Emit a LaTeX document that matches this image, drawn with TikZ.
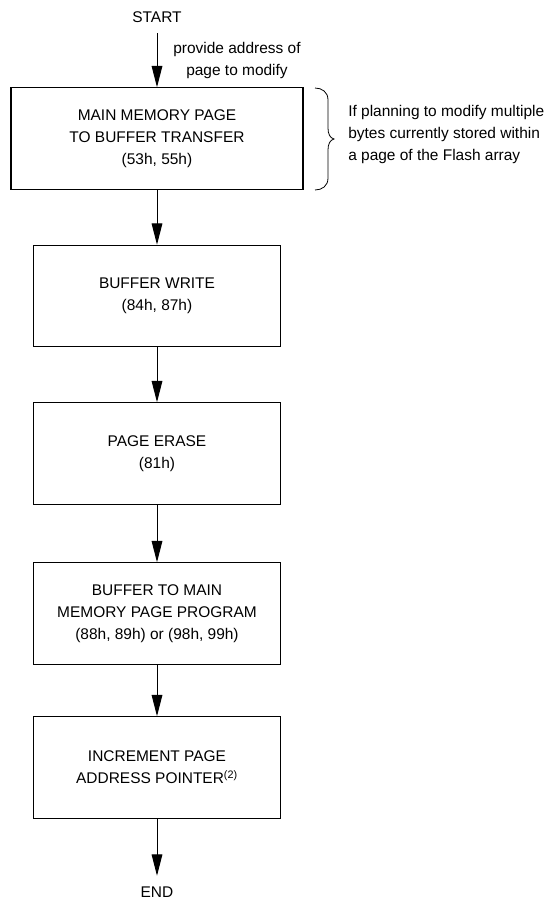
\documentclass[tikz,border=0pt]{standalone}
\usepackage{fontspec}
\setmainfont{Liberation Sans}
\usetikzlibrary{arrows.meta}

\tikzset{
  box/.style={draw, line width=0.9pt, minimum width=185pt, minimum height=76pt, align=center, inner sep=2pt},
  term/.style={inner sep=8pt},
  flow/.style={line width=0.75pt, -{Triangle[length=16pt,width=8pt]}},
}

\begin{document}
\begin{tikzpicture}[x=0.75pt,y=0.75pt,yscale=-1,xscale=1, font=\fontsize{11.6}{16.5}\selectfont]
\useasboundingbox (0,0) rectangle (547,901);

% Text Node
\draw (157,17) node [term] (start) {START};
% Text Node
\draw (157,892) node [term] (end) {END};

%Shape: Rectangle
\draw (157,138.5) node [box, minimum width=219pt] (b1) {MAIN MEMORY PAGE\\TO BUFFER TRANSFER\\(53h, 55h)};
%Shape: Rectangle
\draw (157,296) node [box] (b2) {BUFFER WRITE\\(84h, 87h)};
%Shape: Rectangle
\draw (157,453.5) node [box] (b3) {PAGE ERASE\\(81h)};
%Shape: Rectangle
\draw (157,613.5) node [box] (b4) {BUFFER TO MAIN\\MEMORY PAGE PROGRAM\\(88h, 89h) or (98h, 99h)};
%Shape: Rectangle
\draw (157,767.5) node [box] (b5) {INCREMENT PAGE\\ADDRESS POINTER\textsuperscript{(2)}};

%Straight Lines
\draw [flow] (start) -- (b1);
\draw [flow] (b1) -- (b2);
\draw [flow] (b2) -- (b3);
\draw [flow] (b3) -- (b4);
\draw [flow] (b4) -- (b5);
\draw [flow] (b5) -- (end);

% Text Node
\draw (237,60) node [align=center] (addr) {provide address of\\page to modify};

%Curve Lines: brace
\draw [line width=0.6pt] (315,88) .. controls (322,88) and (328,92) .. (328,100) -- (328,128) .. controls (328,134) and (330,138) .. (334,139) .. controls (330,140) and (328,144) .. (328,150) -- (328,178) .. controls (328,186) and (322,190) .. (315,190) ;
% Text Node
\draw (347,134) node [anchor=west, align=left, inner sep=0.75pt] (note) {If planning to modify multiple\\bytes currently stored within\\a page of the Flash array};

\end{tikzpicture}
\end{document}
